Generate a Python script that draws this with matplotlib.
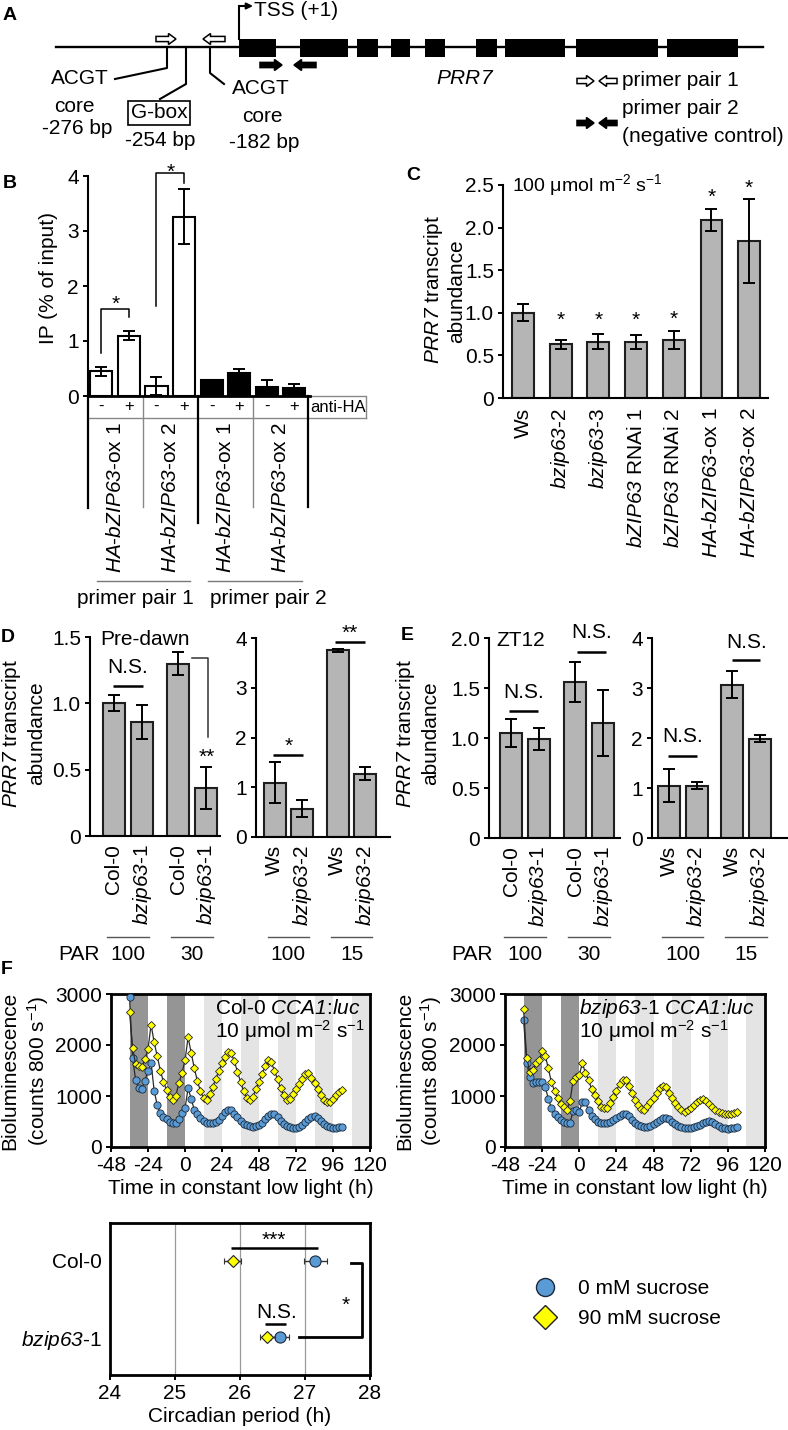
import re
import numpy as np
import matplotlib
matplotlib.use('Agg')
import matplotlib.pyplot as plt
import matplotlib.transforms as mtransforms
from matplotlib.patches import Rectangle, Polygon
from matplotlib.lines import Line2D

FS = 15
plt.rcParams.update({
    'font.family': ['Liberation Sans', 'DejaVu Sans'],
    'mathtext.fontset': 'custom',
    'mathtext.rm': 'Liberation Sans',
    'mathtext.it': 'Liberation Sans:italic',
    'mathtext.bf': 'Liberation Sans:bold',
    'mathtext.sf': 'Liberation Sans:italic',
    'axes.unicode_minus': False,
    'axes.linewidth': 1.5,
    'xtick.major.width': 1.4,
    'ytick.major.width': 1.4,
    'xtick.major.size': 3.5,
    'ytick.major.size': 3.5,
    'xtick.major.pad': 3,
    'ytick.major.pad': 3,
    'font.size': FS,
    'xtick.labelsize': FS,
    'ytick.labelsize': FS,
    'axes.labelsize': FS,
})

# ================= DATA =================
# Panel A: gene model (exon extents along the drawn locus, px)
gene_exons = [(239, 276), (300, 348), (357, 378), (391, 410), (425, 445),
              (476, 497), (505, 565), (576, 658), (667, 738)]

# Panel B: ChIP (IP % of input)
b_groups = ['HA-bZIP63-ox 1', 'HA-bZIP63-ox 2', 'HA-bZIP63-ox 1', 'HA-bZIP63-ox 2']
b_primers = ['primer pair 1', 'primer pair 2']
b_antiHA = ['-', '+', '-', '+', '-', '+', '-', '+']
b_values = [0.45, 1.10, 0.18, 3.26, 0.29, 0.41, 0.17, 0.15]
b_err = [0.08, 0.09, 0.17, 0.50, 0.01, 0.08, 0.12, 0.06]
b_primer_of_bar = [0, 0, 0, 0, 1, 1, 1, 1]

# Panel C
c_lines = ['Ws', 'bzip63-2', 'bzip63-3', 'bZIP63 RNAi 1', 'bZIP63 RNAi 2',
           'HA-bZIP63-ox 1', 'HA-bZIP63-ox 2']
c_values = [1.00, 0.63, 0.66, 0.66, 0.68, 2.09, 1.84]
c_err = [0.10, 0.05, 0.09, 0.08, 0.11, 0.13, 0.49]
c_sig = ['', '*', '*', '*', '*', '*', '*']

# Panel D (pre-dawn)
d_lines = ['Col-0', 'bzip63-1', 'Col-0', 'bzip63-1']
d_par = ['100', '30']
d_values = [1.00, 0.86, 1.30, 0.36]
d_err = [0.06, 0.13, 0.09, 0.16]
d2_lines = ['Ws', 'bzip63-2', 'Ws', 'bzip63-2']
d2_par = ['100', '15']
d2_values = [1.09, 0.57, 3.75, 1.27]
d2_err = [0.41, 0.17, 0.03, 0.13]

# Panel E (ZT12)
e_lines = ['Col-0', 'bzip63-1', 'Col-0', 'bzip63-1']
e_par = ['100', '30']
e_values = [1.05, 0.99, 1.56, 1.15]
e_err = [0.14, 0.11, 0.20, 0.33]
e2_lines = ['Ws', 'bzip63-2', 'Ws', 'bzip63-2']
e2_par = ['100', '15']
e2_values = [1.05, 1.05, 3.07, 1.99]
e2_err = [0.33, 0.07, 0.27, 0.07]

# Panel F: bioluminescence time courses
hours = np.arange(-36, 103, 2)
col0_0mM = [2950, 1750, 1310, 1150, 1140, 1300, 1500, 1650, 1100, 820,
            660, 580, 540, 500, 470, 470, 540, 660, 760, 1150,
            950, 730, 640, 570, 510, 480, 470, 470, 490, 530,
            600, 680, 730, 720, 650, 580, 510, 460, 430, 410,
            400, 410, 430, 480, 540, 610, 650, 640, 580, 510,
            450, 420, 390, 380, 375, 390, 430, 490, 550, 590,
            600, 570, 510, 450, 410, 390, 380, 380, 390, 400]
col0_90mM = [2650, 1950, 1620, 1580, 1560, 1720, 1920, 2400, 2050, 1780,
             1500, 1280, 1120, 980, 920, 1000, 1250, 1450, 1700, 2150,
             1850, 1550, 1300, 1100, 960, 930, 1030, 1180, 1340, 1500,
             1640, 1760, 1860, 1840, 1680, 1480, 1280, 1100, 970, 930,
             990, 1130, 1280, 1430, 1580, 1700, 1660, 1500, 1330, 1160,
             1010, 930, 950, 1040, 1140, 1240, 1340, 1430, 1450, 1360,
             1250, 1130, 1020, 930, 880, 890, 950, 1020, 1080, 1120]
bz_0mM = [2500, 1650, 1380, 1250, 1280, 1280, 1270, 1170, 950, 760,
          640, 580, 520, 490, 470, 480, 700, 720, 690, 880,
          880, 720, 600, 540, 500, 480, 470, 470, 490, 520,
          560, 600, 640, 640, 600, 530, 480, 440, 410, 395,
          395, 410, 450, 490, 530, 565, 575, 550, 500, 455,
          420, 395, 380, 375, 380, 390, 410, 440, 475, 500,
          505, 490, 450, 410, 380, 365, 360, 365, 375, 400]
bz_90mM = [2700, 1750, 1480, 1510, 1640, 1700, 1880, 1790, 1540, 1270,
           1100, 960, 850, 790, 735, 900, 1300, 1380, 1420, 1640,
           1450, 1320, 1130, 1020, 900, 790, 755, 770, 870, 980,
           1100, 1240, 1320, 1320, 1200, 1060, 930, 820, 740, 725,
           800, 880, 960, 1060, 1150, 1200, 1170, 1050, 970, 860,
           790, 720, 685, 720, 760, 830, 880, 930, 945, 910,
           840, 780, 730, 690, 660, 645, 640, 645, 660, 680]
dark_bands = [(-36, -24), (-12, 0)]
light_bands = [(12, 24), (36, 48), (60, 72), (84, 96), (108, 120)]

# Panel F bottom: circadian period
f_genotypes = ['Col-0', 'bzip63-1']
period_0mM = [27.16, 26.62]
period_0mM_err = [0.18, 0.14]
period_90mM = [25.89, 26.42]
period_90mM_err = [0.13, 0.12]
sucrose_labels = ['0 mM sucrose', '90 mM sucrose']

# ================= STYLE =================
W, H = 788, 1430
GRAY = '#b5b5b5'
EDGE = '#1e1e1e'
BLUE = '#5b9bd5'
YEL = '#ffff00'
DARK = '#959595'
LIGHT = '#e4e4e4'

ITAL = re.compile(r'HA(?=-bZIP63)|bZIP63|bzip63|PRR7|CCA1|luc')


def ital(s):
    # \mathsf is mapped to the italic face so that digits are italic too
    return ITAL.sub(lambda m: r'$\mathsf{' + m.group(0) + '}$', s)


fig = plt.figure(figsize=(W / 100, H / 100), dpi=100)


def px_axes(x0, y0, x1, y1):
    ax = fig.add_axes([x0 / W, 1 - y1 / H, (x1 - x0) / W, (y1 - y0) / H])
    ax.set_facecolor('none')
    return ax


ov = px_axes(0, 0, W, H)
ov.set_xlim(0, W)
ov.set_ylim(H, 0)
ov.axis('off')
ov.set_zorder(5)


def txt(x, y, s, **kw):
    kw.setdefault('ha', 'center')
    kw.setdefault('va', 'center')
    kw.setdefault('fontsize', FS)
    return ov.text(x, y, s, **kw)


def blend(ax):
    return mtransforms.blended_transform_factory(ax.transData, ov.transData)


def star(ax, x, y, s='*'):
    ax.annotate(s, (x, y), xytext=(0, -3.4), textcoords='offset points',
                ha='center', va='center', fontsize=FS, annotation_clip=False)


def sigline(ax, xa, xb, y, lw=1.8):
    ax.plot([xa, xb], [y, y], color='black', lw=lw, clip_on=False, solid_capstyle='butt')


def block_arrow(x_tail, x_tip, y, fc):
    d = np.sign(x_tip - x_tail)
    hl, bh, hh = 7.5, 2.6, 5.5
    xb = x_tip - d * hl
    pts = [(x_tail, y - bh), (xb, y - bh), (xb, y - hh), (x_tip, y),
           (xb, y + hh), (xb, y + bh), (x_tail, y + bh)]
    ov.add_patch(Polygon(pts, closed=True, fc=fc, ec='black', lw=1.1, zorder=6))


# ================= PANEL A =================
ov.plot([56, 763], [47, 47], color='black', lw=1.7, zorder=5)
for s, e in gene_exons:
    ov.add_patch(Rectangle((s, 39), e - s, 18, fc='black', ec='none', zorder=6))
ov.plot([239.5, 239.5], [39, 6], color='black', lw=1.5)
ov.annotate('', xy=(253, 6), xytext=(239, 6),
            arrowprops=dict(arrowstyle='-|>', lw=1.5, color='black',
                            mutation_scale=9, shrinkA=0, shrinkB=0))
txt(254, 11, 'TSS (+1)', ha='left')
block_arrow(156, 176, 39, 'white')
block_arrow(225, 203, 39, 'white')
block_arrow(260, 282, 65, 'black')
block_arrow(316, 294, 65, 'black')
ov.plot([167, 167, 115], [47, 68, 79], color='black', lw=1.5)
ov.plot([186, 186, 160], [47, 84, 99], color='black', lw=1.5)
ov.plot([210, 210, 224], [47, 73, 84], color='black', lw=1.5)
txt(109, 78, 'ACGT', ha='right')
txt(74, 106, 'core')
txt(77, 129, '-276 bp')
txt(159, 113, 'G-box', bbox=dict(boxstyle='square,pad=0.12', fc='white', ec='black', lw=1.2))
txt(160, 140, '-254 bp')
txt(261, 89, 'ACGT')
txt(262, 117, 'core')
txt(264, 142, '-182 bp')
txt(465, 78, ital('PRR7'))
block_arrow(577, 594, 81, 'white')
block_arrow(617, 599, 81, 'white')
block_arrow(577, 594, 123, 'black')
block_arrow(617, 599, 123, 'black')
txt(622, 80, 'primer pair 1', ha='left')
txt(622, 109, 'primer pair 2', ha='left')
txt(622, 136, '(negative control)', ha='left')

# panel letters
for (x, y, s) in [(10, 16, 'A'), (10, 183, 'B'), (413, 175, 'C'),
                  (8, 637, 'D'), (407, 635, 'E'), (7, 970, 'F')]:
    txt(x, y, s, fontweight='bold', fontsize=14)

# ================= PANEL B =================
axB = px_axes(88, 176, 310, 396)
xb = np.arange(len(b_values))
fcs = [['white', 'black'][p] for p in b_primer_of_bar]
axB.bar(xb, b_values, width=0.8, color=fcs, edgecolor='black', lw=1.5, zorder=2)
axB.errorbar(xb, b_values, yerr=b_err, fmt='none', ecolor='black',
             elinewidth=1.4, capsize=4, capthick=1.4, zorder=3)
axB.set_xlim(-0.49, 7.58)
axB.set_ylim(0, 4)
axB.set_xticks([])
axB.set_yticks([0, 1, 2, 3, 4])
for sp in ['top', 'right']:
    axB.spines[sp].set_visible(False)
axB.spines['bottom'].set_linewidth(2)
txt(49, 278, 'IP (% of input)', rotation=90)
# brackets
axB.plot([0, 0, 1, 1], [0.78, 1.58, 1.58, 1.44], color='black', lw=1.1, clip_on=False)
star(axB, 0.5, 1.75)
axB.plot([2, 2, 3, 3], [1.64, 4.05, 4.05, 3.87], color='black', lw=1.1, clip_on=False)
star(axB, 2.5, 4.15)
# table below
tB = blend(axB)
xr = 9.62
axB.plot([-0.49, xr], [418, 418], transform=tB, color='#888888', lw=1, clip_on=False)
axB.plot([7.5, xr, xr], [396, 396, 418], transform=tB, color='#888888', lw=1, clip_on=False)
for xv, y2, col, lw in [(-0.49, 508, 'black', 1.6), (1.5, 507, '#888888', 1),
                        (3.5, 523, 'black', 1.6), (5.5, 507, '#888888', 1),
                        (7.5, 507, 'black', 1.6)]:
    axB.plot([xv, xv], [396, y2], transform=tB, color=col, lw=lw, clip_on=False)
for i, s in enumerate(b_antiHA):
    axB.text(i, 406, s, transform=tB, ha='center', va='center', fontsize=12)
axB.text(8.6, 407, 'anti-HA', transform=tB, ha='center', va='center', fontsize=12)
for k, g in enumerate(b_groups):
    axB.text(2 * k + 0.5, 573, ital(g), transform=tB, rotation=90,
             ha='center', va='bottom', fontsize=FS)
for (xa, xb2, xt), s in zip([(-0.16, 3.22, 1.22), (3.87, 7.29, 6.06)], b_primers):
    axB.plot([xa, xb2], [581, 581], transform=tB, color='#777777', lw=1, clip_on=False)
    axB.text(xt, 598, s, transform=tB, ha='center', va='center', fontsize=FS)

# ================= PANEL C =================
axC = px_axes(503, 185, 768, 398)
xc = np.arange(len(c_values))
axC.bar(xc, c_values, width=0.58, color=GRAY, edgecolor=EDGE, lw=1.5, zorder=2)
axC.errorbar(xc, c_values, yerr=c_err, fmt='none', ecolor='black',
             elinewidth=1.4, capsize=4, capthick=1.4, zorder=3)
axC.set_xlim(-0.53, 6.5)
axC.set_ylim(0, 2.5)
axC.set_yticks([0, 0.5, 1.0, 1.5, 2.0, 2.5])
axC.set_yticklabels(['0', '0.5', '1.0', '1.5', '2.0', '2.5'])
axC.set_xticks(xc)
axC.set_xticklabels([ital(s) for s in c_lines], rotation=90)
axC.tick_params(axis='x', length=0, pad=7)
for sp in ['top', 'right']:
    axC.spines[sp].set_visible(False)
for i, s in enumerate(c_sig):
    if s:
        star(axC, i, max(c_values[i] + c_err[i], 0.78) + 0.19, s)
txt(512, 185, r'100 μmol m$^{-2}$ s$^{-1}$', ha='left', fontsize=14)
txt(434, 289, ital('PRR7 transcript'), rotation=90)
txt(457, 291, 'abundance', rotation=90)

# ================= PANELS D/E =================
POS4 = np.array([0, 1, 2.3, 3.3])


def expr_panel(x0, x1, ytop, ybot, ymax, yticks, yticklabels, c0, unit,
               values, err, labels, par):
    ax = px_axes(x0, ytop, x1, ybot)
    ax.set_xlim((x0 - c0) / unit, (x1 - c0) / unit)
    ax.set_ylim(0, ymax)
    ax.bar(POS4, values, width=22 / unit, color=GRAY, edgecolor=EDGE, lw=1.5, zorder=2)
    ax.errorbar(POS4, values, yerr=err, fmt='none', ecolor='black',
                elinewidth=1.4, capsize=4, capthick=1.4, zorder=3)
    ax.set_xticks(POS4)
    ax.set_xticklabels([ital(s) for s in labels], rotation=90)
    ax.tick_params(axis='x', length=0, pad=6)
    ax.set_yticks(yticks)
    ax.set_yticklabels(yticklabels)
    for sp in ['top', 'right']:
        ax.spines[sp].set_visible(False)
    t = blend(ax)
    for k, p in enumerate(par):
        c = POS4[2 * k:2 * k + 2].mean()
        ax.plot([c - 0.75, c + 0.75], [937, 937], transform=t, color='#555555',
                lw=1, clip_on=False)
        ax.text(c, 954, p, transform=t, ha='center', va='center', fontsize=FS)
    return ax


axD1 = expr_panel(90, 220, 637, 836, 1.5, [0, 0.5, 1.0, 1.5], ['0', '0.5', '1.0', '1.5'],
                  114, 28, d_values, d_err, d_lines, d_par)
axD2 = expr_panel(256, 390, 638, 837, 4, [0, 1, 2, 3, 4], ['0', '1', '2', '3', '4'],
                  274.5, 27.5, d2_values, d2_err, d2_lines, d2_par)
axE1 = expr_panel(489, 620, 638, 838, 2.0, [0, 0.5, 1.0, 1.5, 2.0],
                  ['0', '0.5', '1.0', '1.5', '2.0'],
                  511, 28, e_values, e_err, e_lines, e_par)
axE2 = expr_panel(652, 787, 638, 838, 4, [0, 1, 2, 3, 4], ['0', '1', '2', '3', '4'],
                  669, 27.5, e2_values, e2_err, e2_lines, e2_par)

txt(100, 954, 'PAR', ha='right')
txt(493, 954, 'PAR', ha='right')
for x1, x2 in [(12, 37), (406, 431)]:
    txt(x1, 733, ital('PRR7 transcript'), rotation=90)
    txt(x2, 733, 'abundance', rotation=90)

# D annotations
axD1.text(-0.5, 1.48, 'Pre-dawn', ha='left', va='center', fontsize=FS, clip_on=False)
sigline(axD1, -0.04, 1.04, 1.13)
axD1.text(0.5, 1.27, 'N.S.', ha='center', va='center', fontsize=FS)
axD1.plot([2.79, 3.36, 3.36], [1.34, 1.34, 0.75], color='#333333', lw=1.1, clip_on=False)
star(axD1, 3.32, 0.63, '**')
sigline(axD2, -0.05, 1.04, 1.65)
star(axD2, 0.5, 1.91)
sigline(axD2, 2.2, 3.29, 3.92)
star(axD2, 2.75, 4.18, '**')
# E annotations
axE1.text(-0.54, 1.98, 'ZT12', ha='left', va='center', fontsize=FS, clip_on=False)
sigline(axE1, -0.07, 0.96, 1.27)
axE1.text(0.45, 1.45, 'N.S.', ha='center', va='center', fontsize=FS)
sigline(axE1, 2.36, 3.39, 1.86)
axE1.text(2.89, 2.05, 'N.S.', ha='center', va='center', fontsize=FS, clip_on=False)
sigline(axE2, -0.04, 1.02, 1.64)
axE2.text(0.5, 2.04, 'N.S.', ha='center', va='center', fontsize=FS)
sigline(axE2, 2.29, 3.31, 3.56)
axE2.text(2.84, 3.92, 'N.S.', ha='center', va='center', fontsize=FS)

# ================= PANEL F (time courses) =================


def lum_panel(x0, x1, v0, v90, title, tx):
    ax = px_axes(x0, 994, x1, 1147)
    for a, b in dark_bands:
        ax.axvspan(a, b, color=DARK, lw=0, zorder=0)
    for a, b in light_bands:
        ax.axvspan(a, b, color=LIGHT, lw=0, zorder=0)
    ax.plot(hours, v0, '-', color='#2a2a2a', lw=0.9, marker='o', ms=5.2,
            mfc=BLUE, mec='#1b2a3a', mew=0.6, zorder=3)
    ax.plot(hours, v90, '-', color='#2a2a2a', lw=0.9, marker='D', ms=4.0,
            mfc=YEL, mec='#222222', mew=0.6, zorder=4)
    ax.set_xlim(-48, 120)
    ax.set_ylim(0, 3000)
    ax.set_xticks(np.arange(-48, 121, 24))
    ax.set_yticks([0, 1000, 2000, 3000])
    ax.tick_params(direction='out')
    ax.set_xlabel('Time in constant low light (h)', labelpad=3)
    for sp in ax.spines.values():
        sp.set_linewidth(2)
    txt(tx, 1009, ital(title), ha='left')
    txt(tx, 1031, r'10 μmol m$^{-2}$ s$^{-1}$', ha='left')
    return ax


axF1 = lum_panel(111, 370, col0_0mM, col0_90mM, 'Col-0 CCA1:luc', 215)
axF2 = lum_panel(505, 765, bz_0mM, bz_90mM, 'bzip63-1 CCA1:luc', 579)
for x1, x2 in [(10, 38), (405, 431)]:
    txt(x1, 1071, 'Bioluminescence', rotation=90)
    txt(x2, 1071, r'(counts 800 s$^{-1}$)', rotation=90)

# ================= PANEL F (periods) =================
axP = px_axes(110, 1223, 370, 1375)
row_y = [0.75, 0.25]
axP.set_xlim(24, 28)
axP.set_ylim(0, 1)
axP.set_xticks([24, 25, 26, 27, 28])
axP.xaxis.grid(True, color='#9a9a9a', lw=0.9)
axP.set_axisbelow(True)
axP.errorbar(period_0mM, row_y, xerr=period_0mM_err, fmt='o', ms=8, mfc=BLUE,
             mec='#1b2a3a', mew=0.8, ecolor='#333333', elinewidth=1, capsize=2.5, zorder=4)
axP.errorbar(period_90mM, row_y, xerr=period_90mM_err, fmt='D', ms=5.8, mfc=YEL,
             mec='#222222', mew=0.8, ecolor='#333333', elinewidth=1, capsize=2.5, zorder=5)
axP.set_yticks(row_y)
axP.set_yticklabels([ital(g) for g in f_genotypes])
axP.tick_params(axis='y', length=0, pad=6)
axP.tick_params(axis='x', direction='out')
axP.set_xlabel('Circadian period (h)', labelpad=3)
for sp in axP.spines.values():
    sp.set_linewidth(2)
sigline(axP, 25.86, 27.2, 0.835)
axP.text(26.52, 0.885, '***', ha='center', va='center', fontsize=FS)
sigline(axP, 26.38, 26.71, 0.335)
axP.text(26.56, 0.41, 'N.S.', ha='center', va='center', fontsize=FS)
axP.plot([27.7, 27.87, 27.87, 26.9], [0.74, 0.74, 0.25, 0.25], color='black', lw=2,
         clip_on=False)
star(axP, 27.62, 0.49)

handles = [Line2D([], [], ls='none', marker='o', ms=13, mfc=BLUE, mec='#1b2a3a', mew=1),
           Line2D([], [], ls='none', marker='D', ms=12, mfc=YEL, mec='#222222', mew=1)]
fig.legend(handles, sucrose_labels, loc='upper left',
           bbox_to_anchor=(534.6 / W, 1 - 1279 / H), frameon=False,
           handlelength=1.0, handletextpad=1.09, labelspacing=0.55,
           borderpad=0, borderaxespad=0, fontsize=FS)

fig.savefig('out.png', dpi=100)
